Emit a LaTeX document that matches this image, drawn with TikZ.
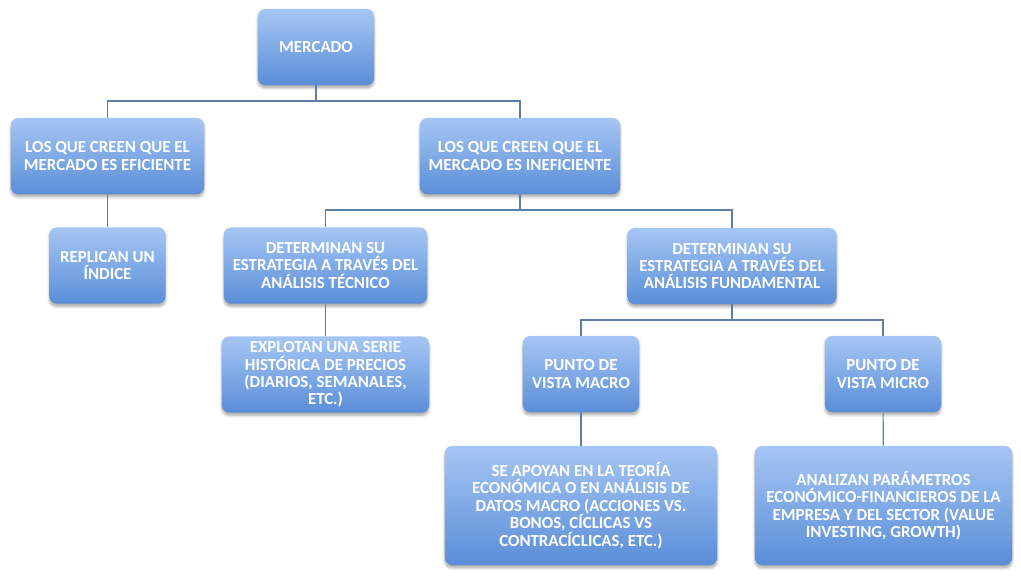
\documentclass[tikz,border=0pt]{standalone}
\usepackage{fontspec}
\setmainfont{Carlito}
\usetikzlibrary{shadows.blur}
\definecolor{boxtop}{HTML}{A6C6F4}
\definecolor{boxbottom}{HTML}{5A8ED8}
\definecolor{linkline}{HTML}{5B7FA6}
\tikzset{
  caja/.style={rounded corners=5pt, top color=boxtop, bottom color=boxbottom,
    draw=none, text=white, align=center, inner sep=2pt,
    font=\fontsize{12}{12.4}\selectfont\bfseries,
    blur shadow={shadow xshift=0pt, shadow yshift=-2pt, shadow blur steps=6, shadow opacity=35},
    minimum height=1.9cm},
  enlace/.style={draw=linkline, line width=0.8pt}
}
\begin{document}
\begin{tikzpicture}[x=0.025cm,y=-0.025cm]
\useasboundingbox (0,0) rectangle (1021,577);
\node[caja, minimum width=2.9cm] (mercado) at (316,47){MERCADO};
\node[caja, minimum width=4.825cm] (eficiente) at (107.5,156){LOS QUE CREEN QUE EL\\MERCADO ES EFICIENTE};
\node[caja, minimum width=5cm] (ineficiente) at (520,156){LOS QUE CREEN QUE EL\\MERCADO ES INEFICIENTE};
\node[caja, minimum width=2.9cm] (replican) at (107.5,265.5){REPLICAN UN\\ÍNDICE};
\node[caja, minimum width=5.075cm] (tecnico) at (325.5,265.5){DETERMINAN SU\\ESTRATEGIA A TRAVÉS DEL\\ANÁLISIS TÉCNICO};
\node[caja, minimum width=5.225cm] (fundamental) at (732,266){DETERMINAN SU\\ESTRATEGIA A TRAVÉS DEL\\ANÁLISIS FUNDAMENTAL};
\node[caja, minimum width=5.175cm] (explotan) at (325.5,374.5){EXPLOTAN UNA SERIE\\HISTÓRICA DE PRECIOS\\(DIARIOS, SEMANALES,\\ETC.)};
\node[caja, minimum width=2.9cm] (macro) at (581,374){PUNTO DE\\VISTA MACRO};
\node[caja, minimum width=2.9cm] (micro) at (883,374){PUNTO DE\\VISTA MICRO};
\node[caja, minimum width=6.8cm, minimum height=2.975cm] (apoyan) at (581,505.5){SE APOYAN EN LA TEORÍA\\ECONÓMICA O EN ANÁLISIS DE\\DATOS MACRO (ACCIONES VS.\\BONOS, CÍCLICAS VS\\CONTRACÍCLICAS, ETC.)};
\node[caja, minimum width=6.425cm, minimum height=2.975cm] (analizan) at (883.5,505.5){ANALIZAN PARÁMETROS\\ECONÓMICO-FINANCIEROS DE LA\\EMPRESA Y DEL SECTOR (VALUE\\INVESTING, GROWTH)};
% conectores
\begin{scope}[on background layer/.style={}]
\draw[enlace] (mercado.south) -- (mercado.south |- 0,101) -| (eficiente.north);
\draw[enlace] (mercado.south |- 0,101) -| (ineficiente.north);
\draw[enlace] (ineficiente.south) -- (ineficiente.south |- 0,210) -| (tecnico.north);
\draw[enlace] (ineficiente.south |- 0,210) -| (fundamental.north);
\draw[enlace] (fundamental.south) -- (fundamental.south |- 0,320) -| (macro.north);
\draw[enlace] (fundamental.south |- 0,320) -| (micro.north);
\draw[enlace] (eficiente) -- (replican);
\draw[enlace] (tecnico) -- (explotan);
\draw[enlace] (macro) -- (apoyan);
\draw[enlace] (micro) -- (analizan);
\end{scope}
\end{tikzpicture}
\end{document}
